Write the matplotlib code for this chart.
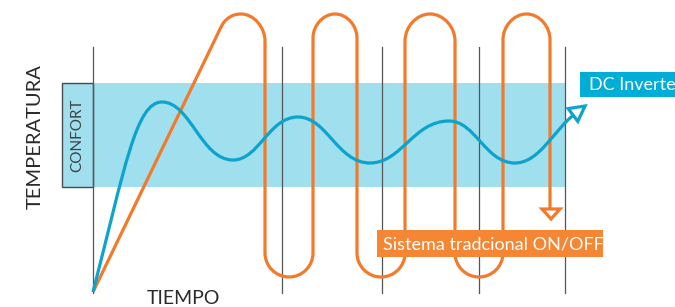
import numpy as np
import matplotlib.pyplot as plt
from matplotlib.path import Path
from matplotlib.patches import PathPatch, Rectangle, Polygon

# picture coordinates (px), y grows downwards
grid_x = [93, 282, 382, 479, 565]
grid_top, grid_bottom = 47, 293
band_top, band_bottom = 83, 187
confort_left = 62

inverter_x = [93, 162, 233, 298, 370, 449, 515, 583]
inverter_y = [292, 102, 160, 117, 163, 121, 163, 108]

onoff_start = (93, 292)
onoff_sides_x = [265, 313, 357, 405, 455, 503, 550]
onoff_high = 14
onoff_low = 277
onoff_end = 214

ORANGE = '#F37A2A'
ORANGE_BOX = '#F58634'
BLUE = '#0CA3CD'
BAND = '#9FDFEE'
CYAN_BOX = '#00ADD7'
GREY = '#555555'

plt.rcParams['font.family'] = ['Lato', 'DejaVu Sans']

fig = plt.figure(figsize=(6.75, 3.07), dpi=100)
ax = fig.add_axes([0, 0, 1, 1])
ax.set_xlim(0, 675)
ax.set_ylim(307, 0)
ax.axis('off')

# comfort band
ax.add_patch(Rectangle((grid_x[0], band_top), grid_x[-1] - grid_x[0], band_bottom - band_top,
                       facecolor=BAND, edgecolor='none', zorder=1))
ax.add_patch(Rectangle((confort_left, band_top), grid_x[0] - confort_left, band_bottom - band_top,
                       facecolor=BAND, edgecolor='#4a4a4a', lw=1.0, zorder=2))
ax.text((confort_left + grid_x[0]) / 2, (band_top + band_bottom) / 2, 'CONFORT', rotation=90,
        ha='center', va='center', fontsize=11, color='#404040', zorder=3)

# time grid
for x in grid_x:
    ax.plot([x, x], [grid_top, grid_bottom], color=GREY, lw=0.9, zorder=2)

# ON/OFF curve: ramp then loops between the sides
k = 0.5523
verts = [onoff_start]
codes = [Path.MOVETO]
x0 = onoff_sides_x[0]
r = (onoff_sides_x[1] - onoff_sides_x[0]) / 2
apex = (x0 - r, onoff_high)
ramp_end = (apex[0] - 20, onoff_high + 13)
verts += [ramp_end]
codes += [Path.LINETO]
d = np.array(ramp_end) - np.array(onoff_start)
d = d / np.hypot(*d)
verts += [tuple(np.array(ramp_end) + d * 9), (apex[0] - 9, onoff_high), apex]
codes += [Path.CURVE4] * 3
verts += [(apex[0] + r * k, onoff_high), (x0, onoff_high + r * (1 - k) + 3), (x0, onoff_high + r + 3)]
codes += [Path.CURVE4] * 3
up = False
for xa, xb in zip(onoff_sides_x[:-1], onoff_sides_x[1:]):
    rr = (xb - xa) / 2
    mid = (xa + xb) / 2
    if up:
        yside, yap, s = onoff_high + rr + 2, onoff_high, -1
    else:
        yside, yap, s = onoff_low - rr, onoff_low, 1
    verts += [(xa, yside)]
    codes += [Path.LINETO]
    verts += [(xa, yside + s * rr * k), (mid - rr * k, yap), (mid, yap),
              (mid + rr * k, yap), (xb, yside + s * rr * k), (xb, yside)]
    codes += [Path.CURVE4] * 6
    up = not up
verts += [(onoff_sides_x[-1], onoff_end - 4)]
codes += [Path.LINETO]
ax.add_patch(PathPatch(Path(verts, codes), facecolor='none', edgecolor=ORANGE, lw=2.3,
                       capstyle='butt', zorder=4))
tip = (onoff_sides_x[-1] + 1, onoff_end + 5)
ax.add_patch(Polygon([(tip[0] - 9, tip[1] - 10), (tip[0] + 9, tip[1] - 10), tip],
                     closed=True, facecolor='white', edgecolor=ORANGE, lw=2.3, zorder=5))

# inverter curve: smooth Bezier through the extrema
iv = [(inverter_x[0], inverter_y[0])]
ic = [Path.MOVETO]
iv += [(inverter_x[0] + 32, inverter_y[0] - 125), (inverter_x[1] - 26, inverter_y[1]),
       (inverter_x[1], inverter_y[1])]
ic += [Path.CURVE4] * 3
for i in range(1, len(inverter_x) - 2):
    dx = inverter_x[i + 1] - inverter_x[i]
    iv += [(inverter_x[i] + dx * 0.4, inverter_y[i]), (inverter_x[i + 1] - dx * 0.45, inverter_y[i + 1]),
           (inverter_x[i + 1], inverter_y[i + 1])]
    ic += [Path.CURVE4] * 3
xe, ye = inverter_x[-1] - 8, inverter_y[-1] + 6
iv += [(inverter_x[-2] + 25, inverter_y[-2]), (xe - 20, ye + 14), (xe, ye)]
ic += [Path.CURVE4] * 3
ax.add_patch(PathPatch(Path(iv, ic), facecolor='none', edgecolor=BLUE, lw=2.3, zorder=6))
tipb = np.array([inverter_x[-1] + 2, inverter_y[-1] - 2])
dirb = np.array([1.0, -0.75])
dirb /= np.hypot(*dirb)
nb = np.array([dirb[1], -dirb[0]])
base = tipb - dirb * 15
ax.add_patch(Polygon([tipb, base + nb * 8, base - nb * 8], closed=True, facecolor='white',
                     edgecolor=BLUE, lw=2.3, zorder=7))

# labels
ax.text(35, 137, 'TEMPERATURA', rotation=90, ha='center', va='center', fontsize=14.5,
        color='#2a2a2a')
ax.text(183, 298, 'TIEMPO', ha='center', va='center', fontsize=14, color='#2a2a2a')
ax.add_patch(Rectangle((580, 72), 100, 25, facecolor=CYAN_BOX, edgecolor='none', zorder=8))
ax.text(589, 85, 'DC Inverter', ha='left', va='center', fontsize=13, color='white', zorder=9)
ax.add_patch(Rectangle((377, 230), 226, 27, facecolor=ORANGE_BOX, edgecolor='none', zorder=8))
ax.text(383, 244, 'Sistema tradcional ON/OFF', ha='left', va='center', fontsize=13, color='white', zorder=9)

fig.savefig('out.png', dpi=100)
